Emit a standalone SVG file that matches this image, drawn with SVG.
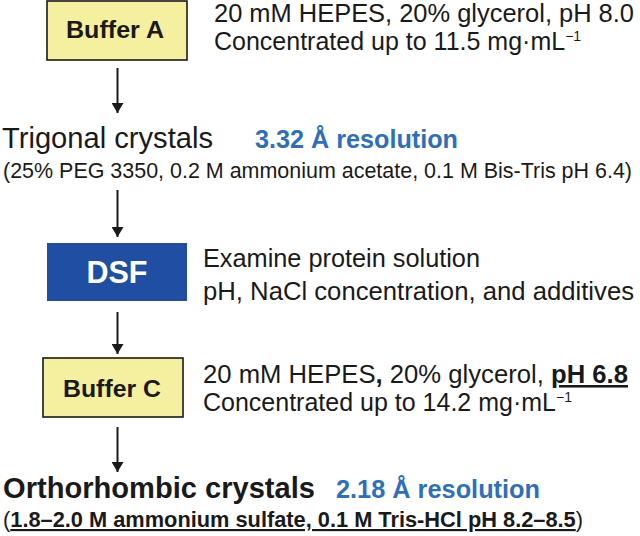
<svg xmlns="http://www.w3.org/2000/svg" width="640" height="536" viewBox="0 0 640 536">
<style>
text{font-family:"Liberation Sans",Arial,Helvetica,sans-serif;fill:#1a1a1a}
.box{stroke:#1a1a1a;stroke-width:1.6}
.ybox{fill:#f5efa0}
.bl{font-weight:bold}
.reg{font-weight:normal}
.body{font-size:25.5px}
.conc{font-size:25px}
.res{font-size:25px;font-weight:bold;fill:#2f6fba}
.sup{font-size:14px}
.u{text-decoration:underline}
.conn{stroke:#1a1a1a;stroke-width:2;fill:none}
</style>
<defs>
<marker id="ah" viewBox="0 0 10 12" refX="10" refY="6" markerWidth="6.5" markerHeight="6" markerUnits="strokeWidth" orient="auto">
<path d="M0,0 L10,6 L0,12 z" fill="#1a1a1a"/>
</marker>
</defs>

<g id="connectors">
<line class="conn" x1="117.5" y1="68" x2="117.5" y2="113" marker-end="url(#ah)"/>
<line class="conn" x1="117.5" y1="190" x2="117.5" y2="237" marker-end="url(#ah)"/>
<line class="conn" x1="117.5" y1="312" x2="117.5" y2="354" marker-end="url(#ah)"/>
<line class="conn" x1="117.5" y1="427" x2="117.5" y2="472" marker-end="url(#ah)"/>
</g>

<g id="node-bufferA">
<rect class="box ybox" x="47" y="1" width="140" height="59"/>
<text class="bl" x="115" y="38" font-size="24.5" text-anchor="middle" textLength="98" lengthAdjust="spacingAndGlyphs">Buffer A</text>
<text class="body" x="214" y="22" textLength="420" lengthAdjust="spacingAndGlyphs">20 mM HEPES, 20% glycerol, pH 8.0</text>
<text class="conc" x="214" y="50">Concentrated up to 11.5 mg·mL<tspan class="sup" dy="-9">−1</tspan></text>
</g>

<g id="node-trigonal">
<text x="2" y="148" font-size="29" textLength="211" lengthAdjust="spacingAndGlyphs">Trigonal crystals</text>
<text class="res" x="255" y="148" textLength="203" lengthAdjust="spacingAndGlyphs">3.32 Å resolution</text>
<text x="3" y="178" font-size="21.3" textLength="629" lengthAdjust="spacingAndGlyphs">(25% PEG 3350, 0.2 M ammonium acetate, 0.1 M Bis-Tris pH 6.4)</text>
</g>

<g id="node-dsf">
<rect x="47" y="243" width="140" height="58" fill="#1f4ea3"/>
<text class="bl" x="117" y="283" font-size="30.5" text-anchor="middle" style="fill:#ffffff">DSF</text>
<text class="body" x="203" y="267" textLength="277" lengthAdjust="spacingAndGlyphs">Examine protein solution</text>
<text class="body" x="203" y="300" textLength="431" lengthAdjust="spacingAndGlyphs">pH, NaCl concentration, and additives</text>
</g>

<g id="node-bufferC">
<rect class="box ybox" x="43" y="358" width="140" height="59"/>
<text class="bl" x="112" y="397" font-size="24.5" text-anchor="middle" textLength="98" lengthAdjust="spacingAndGlyphs">Buffer C</text>
<text class="body" x="203" y="383" textLength="425" lengthAdjust="spacingAndGlyphs">20 mM HEPES<tspan class="bl">,</tspan> 20% glycerol, <tspan class="bl u">pH 6.8</tspan></text>
<text class="conc" x="203" y="411">Concentrated up to 14.2 mg·mL<tspan class="sup" dy="-9">−1</tspan></text>
</g>

<g id="node-ortho">
<text class="bl" x="3" y="498" font-size="29" textLength="312" lengthAdjust="spacingAndGlyphs">Orthorhombic crystals</text>
<text class="res" x="336" y="498" textLength="204" lengthAdjust="spacingAndGlyphs">2.18 Å resolution</text>
<text class="bl" x="3" y="527" font-size="21.5" textLength="580" lengthAdjust="spacingAndGlyphs"><tspan class="reg">(</tspan><tspan class="u">1.8–2.0 M ammonium sulfate, 0.1 M Tris-HCl pH 8.2–8.5</tspan><tspan class="reg">)</tspan></text>
</g>
</svg>
